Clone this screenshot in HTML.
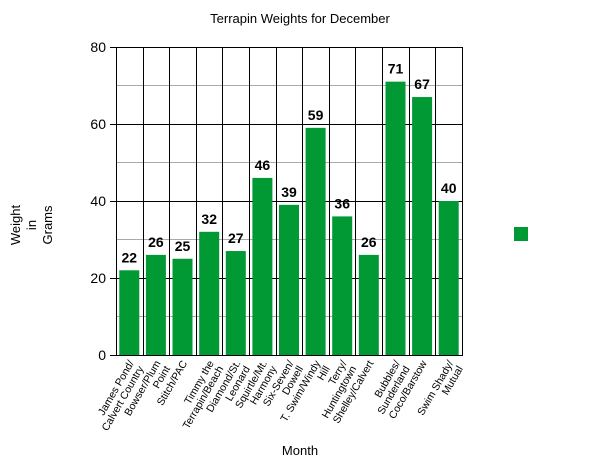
<!DOCTYPE html>
<html><head><meta charset="utf-8"><style>body{margin:0;background:#fff}svg{display:block;font-family:"Liberation Sans",sans-serif}</style></head><body>
<svg width="600" height="463" viewBox="0 0 600 463">
<text x="300" y="23" text-anchor="middle" font-size="13">Terrapin Weights for December</text>
<g stroke="#aaa" stroke-width="1">
<line x1="116" x2="462" y1="316.5" y2="316.5"/><line x1="116" x2="462" y1="239.5" y2="239.5"/><line x1="116" x2="462" y1="162.5" y2="162.5"/><line x1="116" x2="462" y1="85.5" y2="85.5"/>
</g>
<g stroke="#000" stroke-width="1">
<line x1="110" x2="462" y1="355.5" y2="355.5"/><line x1="110" x2="462" y1="278.5" y2="278.5"/><line x1="110" x2="462" y1="201.5" y2="201.5"/><line x1="110" x2="462" y1="124.5" y2="124.5"/><line x1="110" x2="462" y1="47.5" y2="47.5"/>
<line x1="116.5" x2="116.5" y1="47" y2="356"/><line x1="143.5" x2="143.5" y1="47" y2="356"/><line x1="169.5" x2="169.5" y1="47" y2="356"/><line x1="196.5" x2="196.5" y1="47" y2="356"/><line x1="222.5" x2="222.5" y1="47" y2="356"/><line x1="249.5" x2="249.5" y1="47" y2="356"/><line x1="276.5" x2="276.5" y1="47" y2="356"/><line x1="302.5" x2="302.5" y1="47" y2="356"/><line x1="329.5" x2="329.5" y1="47" y2="356"/><line x1="355.5" x2="355.5" y1="47" y2="356"/><line x1="382.5" x2="382.5" y1="47" y2="356"/><line x1="409.5" x2="409.5" y1="47" y2="356"/><line x1="435.5" x2="435.5" y1="47" y2="356"/><line x1="462.5" x2="462.5" y1="47" y2="356"/>
</g>
<g font-size="14" text-anchor="end"><text x="106" y="360">0</text><text x="106" y="283">20</text><text x="106" y="206">40</text><text x="106" y="129">60</text><text x="106" y="52">80</text></g>
<g fill="#009933">
<rect x="119.3" y="270.3" width="20" height="84.7"/>
<rect x="145.9" y="254.9" width="20" height="100.1"/>
<rect x="172.5" y="258.75" width="20" height="96.25"/>
<rect x="199.2" y="231.8" width="20" height="123.2"/>
<rect x="225.8" y="251.05" width="20" height="103.95"/>
<rect x="252.4" y="177.9" width="20" height="177.1"/>
<rect x="279" y="204.85" width="20" height="150.15"/>
<rect x="305.6" y="127.85" width="20" height="227.15"/>
<rect x="332.2" y="216.4" width="20" height="138.6"/>
<rect x="358.8" y="254.9" width="20" height="100.1"/>
<rect x="385.5" y="81.65" width="20" height="273.35"/>
<rect x="412.1" y="97.05" width="20" height="257.95"/>
<rect x="438.7" y="201" width="20" height="154"/>
</g>
<g font-size="14" font-weight="bold" text-anchor="middle">
<text x="129.3" y="262.3">22</text><text x="155.9" y="246.9">26</text><text x="182.5" y="250.75">25</text><text x="209.2" y="223.8">32</text><text x="235.8" y="243.05">27</text><text x="262.4" y="169.9">46</text><text x="289" y="196.85">39</text><text x="315.6" y="119.85">59</text><text x="342.2" y="208.4">36</text><text x="368.8" y="246.9">26</text><text x="395.5" y="73.65">71</text><text x="422.1" y="89.05">67</text><text x="448.7" y="193">40</text>
</g>
<g font-size="10.5" text-anchor="end">
<text transform="translate(134.3,363) rotate(-60)"><tspan x="0" dy="0">James Pond/</tspan><tspan x="0" dy="11">Calvert Country</tspan></text>
<text transform="translate(160.9,363) rotate(-60)"><tspan x="0" dy="0">Bowser/Plum</tspan><tspan x="0" dy="11">Point</tspan></text>
<text transform="translate(187.5,363) rotate(-60)"><tspan x="0" dy="0">Stitch/PAC</tspan></text>
<text transform="translate(214.2,363) rotate(-60)"><tspan x="0" dy="0">Timmy the</tspan><tspan x="0" dy="11">Terrapin/Beach</tspan></text>
<text transform="translate(240.8,363) rotate(-60)"><tspan x="0" dy="0">Diamond/St.</tspan><tspan x="0" dy="11">Leonard</tspan></text>
<text transform="translate(267.4,363) rotate(-60)"><tspan x="0" dy="0">Squirtle/Mt.</tspan><tspan x="0" dy="11">Harmony</tspan></text>
<text transform="translate(294,363) rotate(-60)"><tspan x="0" dy="0">Six-Seven/</tspan><tspan x="0" dy="11">Dowell</tspan></text>
<text transform="translate(320.6,363) rotate(-60)"><tspan x="0" dy="0">T. Swim/Windy</tspan><tspan x="0" dy="11">Hill</tspan></text>
<text transform="translate(347.2,363) rotate(-60)"><tspan x="0" dy="0">Terry/</tspan><tspan x="0" dy="11">Huntingtown</tspan></text>
<text transform="translate(373.8,363) rotate(-60)"><tspan x="0" dy="0">Shelley/Calvert</tspan></text>
<text transform="translate(400.5,363) rotate(-60)"><tspan x="0" dy="0">Bubbles/</tspan><tspan x="0" dy="11">Sunderland</tspan></text>
<text transform="translate(427.1,363) rotate(-60)"><tspan x="0" dy="0">Coco/Barstow</tspan></text>
<text transform="translate(453.7,363) rotate(-60)"><tspan x="0" dy="0">Swim Shady/</tspan><tspan x="0" dy="11">Mutual</tspan></text>
</g>
<g font-size="13" text-anchor="middle"><text x="20" y="225" transform="rotate(-90 20 225)">Weight</text><text x="36" y="225" transform="rotate(-90 36 225)">in</text><text x="52" y="225" transform="rotate(-90 52 225)">Grams</text></g>
<text x="300" y="455" text-anchor="middle" font-size="13">Month</text>
<rect x="514" y="227" width="14" height="14" fill="#009933"/>
</svg>
</body></html>
